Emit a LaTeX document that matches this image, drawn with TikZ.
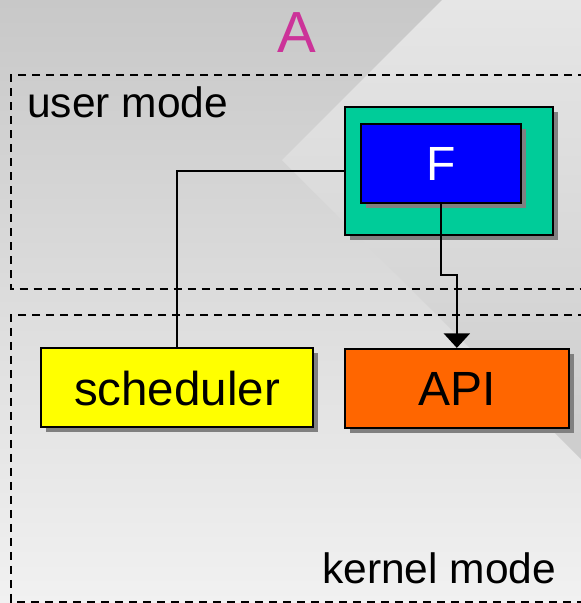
\documentclass[tikz,border=0pt]{standalone}
\usepackage{fontspec}
\setmainfont{Liberation Sans}
\usetikzlibrary{arrows.meta,shadows}
\definecolor{bgtop}{HTML}{C8C8C8}
\definecolor{bgbot}{HTML}{F1F1F1}
\definecolor{wedgetop}{HTML}{E6E6E6}
\definecolor{wedgebot}{HTML}{CDCDCD}
\definecolor{shadowgray}{HTML}{808080}
\definecolor{tealfill}{HTML}{00CC99}
\definecolor{fblue}{HTML}{0000FF}
\definecolor{schedyellow}{HTML}{FFFF00}
\definecolor{apiorange}{HTML}{FF6600}
\definecolor{titlemagenta}{HTML}{CC3399}
\begin{document}
\begin{tikzpicture}[x=1pt,y=-1pt,
  box/.style={draw=black, line width=2.2pt, rectangle, inner sep=0pt,
    general shadow={fill=shadowgray, shadow xshift=5pt, shadow yshift=-5pt}},
  modebox/.style={draw=black, line width=2pt, dash pattern=on 8pt off 6pt},
  wire/.style={draw=black, line width=2pt},
  lbl/.style={inner sep=0pt, anchor=base west, font=\fontsize{42.5}{50}\selectfont}]
\useasboundingbox (0,0) rectangle (581,603);
% background
\shade[top color=bgtop, bottom color=bgbot] (0,0) rectangle (581,603);
\shade[top color=wedgetop, bottom color=wedgebot] (442,0) -- (282,160) -- (581,459) -- (581,0) -- cycle;
% title
\node[inner sep=0pt, anchor=base, text=titlemagenta, font=\fontsize{58}{60}\selectfont] (title) at (297,52) {A};
% mode regions
\draw[modebox] (600,75) -- (11,75) -- (11,289.3) -- (600,289.3);
\draw[modebox] (600,314.8) -- (11,314.8) -- (11,601.5) -- (600,601.5);
\node[lbl] (user) at (27,117) {user mode};
\node[lbl] (kernel) at (322,583) {kernel mode};
% boxes
\node[box, fill=tealfill, minimum width=207.7pt, minimum height=128.3pt] (outer) at (448.85,170.85) {};
\node[box, fill=fblue, minimum width=160pt, minimum height=78.7pt, text=white,
  font=\fontsize{48}{50}\selectfont, text height=34.4pt, text depth=0pt] (F) at (441,163.35) {F};
\node[box, fill=schedyellow, minimum width=272.6pt, minimum height=78.4pt,
  font=\fontsize{47.5}{50}\selectfont, text height=35pt, text depth=0pt] (S) at (177,387.5) {scheduler};
\node[box, fill=apiorange, minimum width=224.3pt, minimum height=78.7pt,
  font=\fontsize{48}{50}\selectfont, text height=34.4pt, text depth=0pt] (API) at (456.85,388.35) {API};
% connectors
\coordinate (jog) at (441,275);
\draw[wire] (S.north) |- (outer.west);
\draw[wire, -{Triangle[width=26pt,length=14.5pt]}] (F.south) -- (F.south |- jog) -- (API.north |- jog) -- (API.north);
\end{tikzpicture}
\end{document}
